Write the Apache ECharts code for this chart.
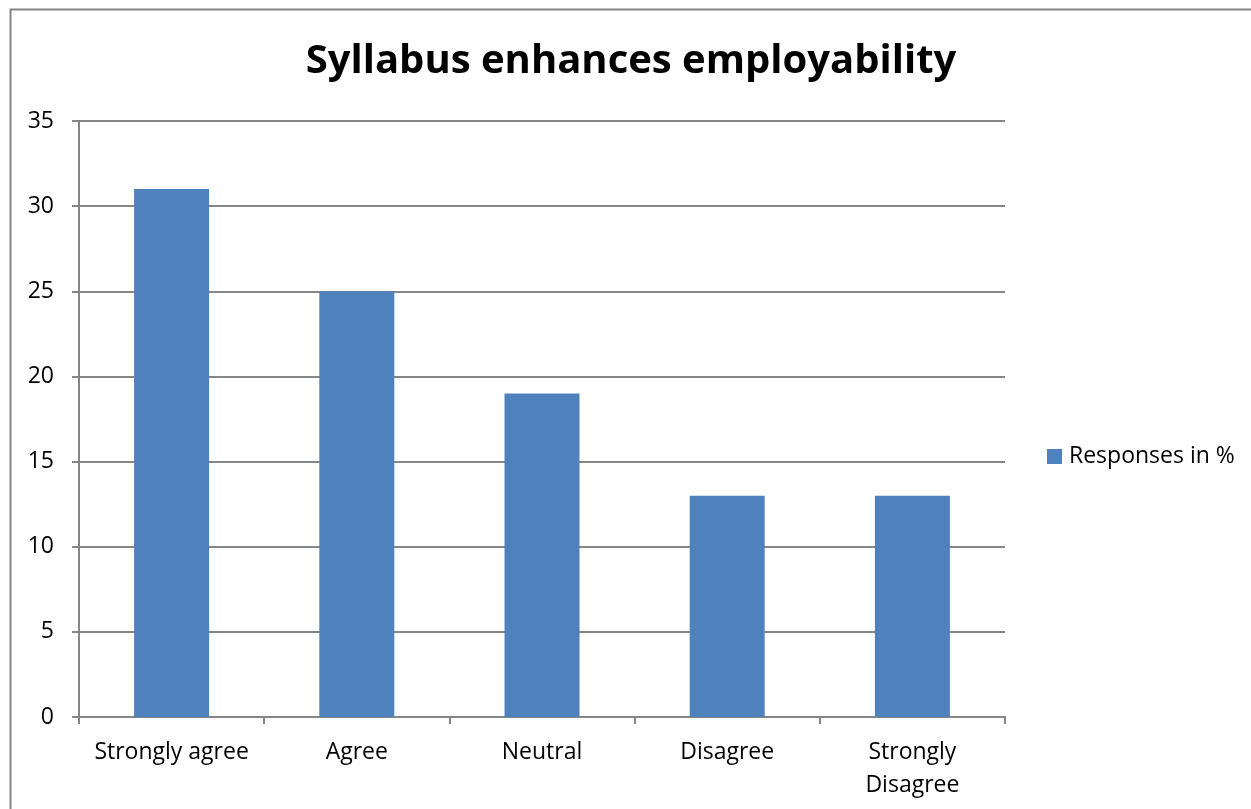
<!DOCTYPE html>
<html><head><meta charset="utf-8">
<script src="https://cdn.jsdelivr.net/npm/echarts@6/dist/echarts.min.js"></script>
<style>html,body{margin:0;padding:0;background:#fff}#c{width:1251px;height:809px}</style>
</head><body><div id="c"></div>
<script>
const categories = ["Strongly agree", "Agree", "Neutral", "Disagree", "Strongly\nDisagree"];
const responses = [31, 25, 19, 13, 13];
const yTicks = [0, 5, 10, 15, 20, 25, 30, 35];
const seriesName = "Responses in %";
const titleText = "Syllabus enhances employability";

const chart = echarts.init(document.getElementById('c'), null, {renderer: 'canvas'});
const font = '"Open Sans", Calibri, sans-serif';
chart.setOption({
  animation: false,
  backgroundColor: '#fff',
  graphic: [{type: 'rect', shape: {x: 10.5, y: 9.5, width: 1260, height: 820}, style: {fill: 'none', stroke: '#868686', lineWidth: 2}, z: -1}],
  title: {text: titleText, left: 626, top: 37, textAlign: 'center',
    textStyle: {fontFamily: font, fontWeight: 'bold', fontSize: 40, color: '#000'}},
  legend: {data: [seriesName], orient: 'vertical', left: 1042, top: 440, itemWidth: 15, itemHeight: 15, itemGap: 8,
    icon: 'rect', textStyle: {fontFamily: font, fontSize: 23, color: '#000', padding: [0, 0, 0, 2]}},
  grid: {left: 79, top: 121, width: 926, height: 596, containLabel: false},
  xAxis: {type: 'category', data: categories,
    axisLine: {lineStyle: {color: '#868686', width: 2}},
    axisTick: {show: true, length: 7, alignWithLabel: false, lineStyle: {color: '#868686', width: 2}},
    axisLabel: {fontFamily: font, fontSize: 23, color: '#000', margin: 19, lineHeight: 33, interval: 0}},
  yAxis: {type: 'value', min: 0, max: 35, interval: 5,
    axisLine: {show: true, lineStyle: {color: '#868686', width: 2}},
    axisTick: {show: true, length: 7, lineStyle: {color: '#868686', width: 2}},
    splitLine: {lineStyle: {color: '#868686', width: 2}},
    axisLabel: {fontFamily: font, fontSize: 23, color: '#000', margin: 25,
      formatter: v => yTicks.includes(v) ? String(v) : ''}},
  series: [{name: seriesName, type: 'bar', data: responses, barWidth: '40.5%',
    itemStyle: {color: '#4f81bd'}}]
});
</script></body></html>
